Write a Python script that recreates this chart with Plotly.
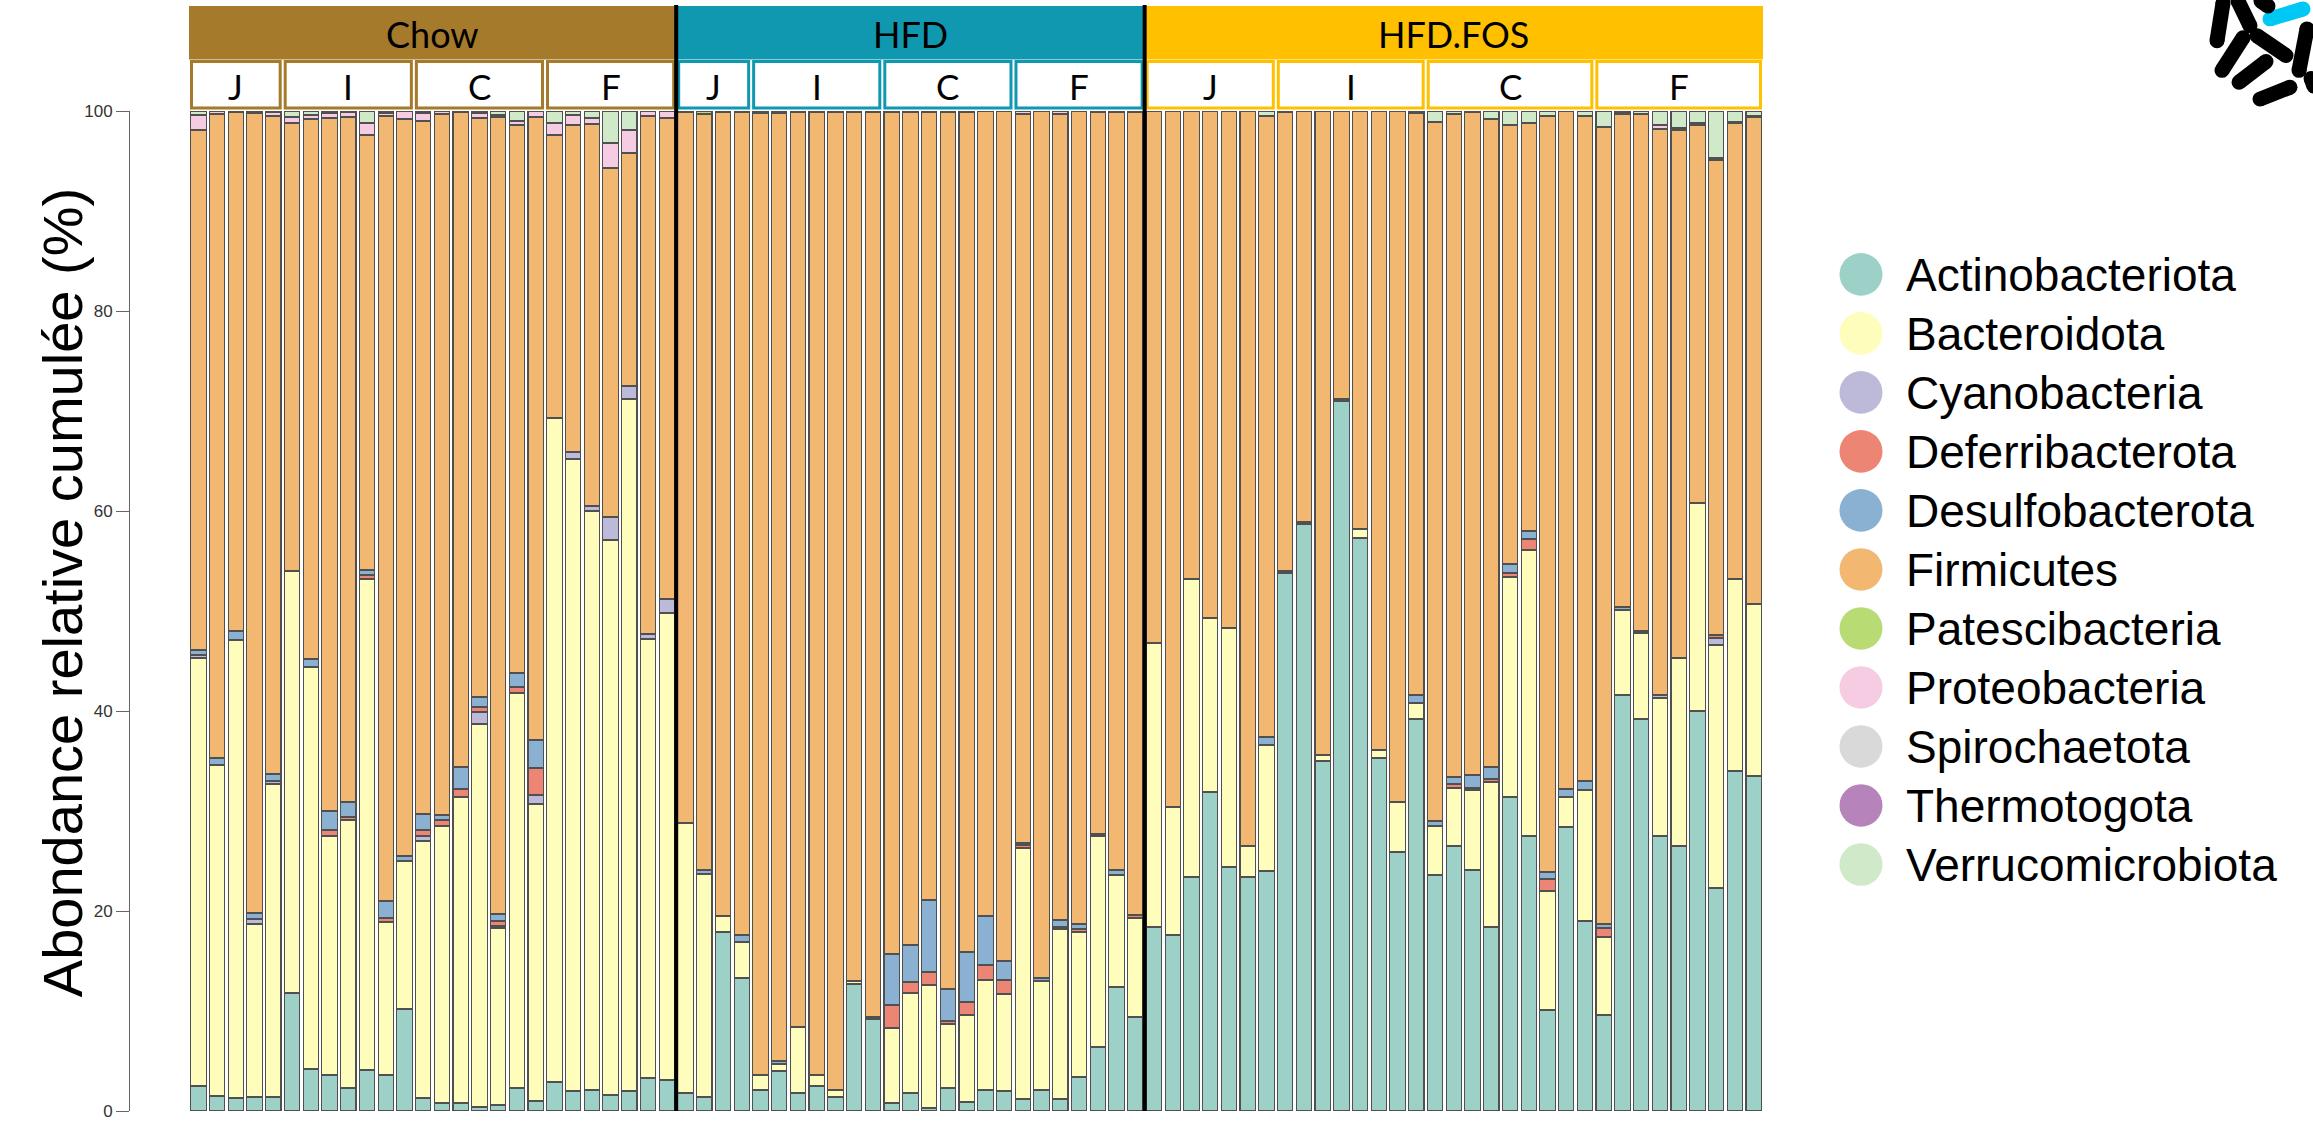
import plotly.graph_objects as go

# ---------------- data ----------------
phyla = ["Actinobacteriota", "Bacteroidota", "Cyanobacteria", "Deferribacterota",
         "Desulfobacterota", "Firmicutes", "Patescibacteria", "Proteobacteria",
         "Spirochaetota", "Thermotogota", "Verrucomicrobiota"]
phylum_colors = ["#9DD0C6", "#FEFDBB", "#BDB9D9", "#EC8574", "#8AB1D2", "#F2B872",
                 "#B8DB74", "#F5CCE2", "#D9D9D9", "#B683BA", "#CFE9C9"]

groups = ["Chow", "HFD", "HFD.FOS"]
group_colors = ["#A67A2B", "#1098B0", "#FFC000"]
subgroups = ["J", "I", "C", "F"]
chow_sizes = [5, 7, 7, 7]
hfd_sizes = [4, 7, 7, 7]
fos_sizes = [7, 8, 9, 9]

actinobacteriota = [
    2.5, 1.5, 1.3, 1.4, 1.4, 11.8, 4.2, 3.6, 2.3, 4.1, 3.6, 10.2, 1.3, 0.8, 0.8, 0.4, 0.6, 2.3, 1.0,
    2.9, 2.0, 2.1, 1.6, 2.0, 3.3, 3.1,
    1.8, 1.4, 17.9, 13.3, 2.1, 4.0, 1.8, 2.5, 1.4, 12.7, 9.2, 0.8, 1.8, 0.3, 2.3, 0.9, 2.1, 2.0,
    1.2, 2.1, 1.2, 3.4, 6.4, 12.4, 9.4,
    18.4, 17.6, 23.4, 31.9, 24.4, 23.4, 24.0, 53.8, 58.7, 35.0, 71.0, 57.3, 35.3, 25.9, 39.2,
    23.6, 26.5, 24.1, 18.4, 31.4, 27.5, 10.1, 28.4, 19.0,
    9.6, 41.6, 39.2, 27.5, 26.5, 40.0, 22.3, 34.0, 33.5]
bacteroidota = [
    42.8, 33.1, 45.8, 17.3, 31.3, 42.2, 40.2, 23.9, 26.8, 49.1, 15.3, 14.8, 25.7, 27.7, 30.6, 38.3, 17.7, 39.5, 29.7,
    66.4, 63.2, 57.9, 55.5, 69.2, 43.9, 46.7,
    27.0, 22.3, 1.6, 3.6, 1.5, 0.7, 6.6, 1.1, 0.7, 0.3, 0.2, 7.5, 10.0, 12.3, 6.4, 8.7, 11.0, 9.7,
    25.1, 10.9, 17.0, 14.5, 21.1, 11.2, 9.9,
    28.4, 12.8, 29.8, 17.4, 23.9, 3.1, 12.6, 0.2, 0.2, 0.6, 0.2, 0.9, 0.8, 5.0, 1.6,
    4.9, 5.8, 8.0, 14.5, 22.0, 28.6, 11.9, 3.0, 13.1,
    7.8, 8.5, 8.6, 13.8, 18.8, 20.8, 24.3, 19.2, 17.2]
cyanobacteria = [
    0.3, 0, 0, 0.5, 0.3, 0, 0, 0, 0, 0, 0, 0, 0.5, 0, 0, 1.2, 0.2, 0, 0.9,
    0, 0.7, 0.5, 2.3, 1.3, 0.5, 1.4,
    0, 0, 0, 0, 0, 0, 0, 0, 0, 0, 0, 0, 0, 0, 0, 0, 0, 0,
    0, 0, 0, 0, 0, 0, 0,
    0, 0, 0, 0, 0, 0, 0, 0, 0, 0, 0, 0, 0, 0, 0,
    0, 0, 0, 0, 0, 0, 0, 0, 0,
    0, 0, 0, 0.3, 0, 0, 0.7, 0, 0]
deferribacterota = [
    0, 0, 0, 0, 0, 0, 0, 0.6, 0.3, 0.4, 0.4, 0, 0.6, 0.6, 0.8, 0.5, 0.5, 0.6, 2.7,
    0, 0, 0, 0, 0, 0, 0,
    0, 0, 0, 0, 0, 0, 0, 0, 0, 0, 0, 2.3, 1.1, 1.3, 0.3, 1.3, 1.5, 1.4,
    0.3, 0, 0.2, 0.3, 0, 0, 0.3,
    0, 0, 0, 0, 0, 0, 0, 0, 0, 0, 0, 0, 0, 0, 0,
    0, 0.4, 0.2, 0.3, 0.4, 1.1, 1.2, 0, 0,
    0.9, 0, 0, 0, 0, 0, 0.3, 0, 0]
desulfobacterota = [
    0.5, 0.7, 0.9, 0.6, 0.7, 0, 0.8, 1.9, 1.5, 0.5, 1.7, 0.5, 1.6, 0.5, 2.2, 1.0, 0.7, 1.4, 2.8,
    0, 0, 0, 0, 0, 0, 0,
    0, 0.4, 0, 0.7, 0, 0.3, 0, 0, 0, 0, 0, 5.1, 3.7, 7.2, 3.2, 5.0, 4.9, 1.9,
    0.2, 0.3, 0.7, 0.5, 0.2, 0.5, 0,
    0, 0, 0, 0, 0, 0, 0.8, 0, 0, 0, 0, 0, 0, 0, 0.8,
    0.5, 0.7, 1.3, 1.2, 0.9, 0.8, 0.7, 0.8, 0.9,
    0.4, 0.3, 0.2, 0, 0, 0, 0, 0, 0]
firmicutes = [
    52.0, 64.4, 51.9, 80.0, 65.8, 44.8, 54.0, 69.3, 68.5, 43.5, 78.5, 73.7, 69.3, 70.1, 65.5, 57.9, 79.7, 54.8, 62.3,
    28.3, 32.7, 38.2, 34.9, 23.3, 51.8, 48.1,
    71.1, 75.6, 80.4, 82.3, 96.2, 94.8, 91.5, 96.3, 97.8, 86.9, 90.5, 84.2, 83.3, 78.8, 87.7, 84.0, 80.5, 85.0,
    72.9, 86.7, 80.6, 81.3, 72.2, 75.8, 80.3,
    53.2, 69.6, 46.8, 50.7, 51.7, 73.5, 62.1, 45.9, 41.1, 64.4, 28.8, 41.8, 63.9, 69.1, 58.2,
    69.9, 66.3, 66.3, 64.8, 43.9, 40.8, 75.6, 67.8, 66.5,
    79.7, 49.3, 51.7, 56.6, 52.8, 37.8, 47.5, 45.6, 48.7]
patescibacteria = [
    0, 0, 0, 0, 0, 0, 0, 0, 0, 0, 0, 0, 0, 0, 0, 0, 0, 0, 0,
    0, 0, 0, 0, 0, 0, 0,
    0.1, 0.3, 0.1, 0.1, 0.2, 0.2, 0.1, 0.1, 0.1, 0.1, 0.1, 0.1, 0.1, 0.1, 0.1, 0.1, 0, 0,
    0, 0, 0, 0, 0.1, 0.1, 0.1,
    0, 0, 0, 0, 0, 0, 0, 0, 0, 0, 0, 0, 0, 0, 0,
    0, 0, 0, 0, 0, 0, 0, 0, 0,
    0, 0, 0, 0, 0, 0, 0, 0, 0]
proteobacteria = [
    1.5, 0.3, 0.1, 0.2, 0.4, 0.6, 0.4, 0.5, 0.5, 1.2, 0.3, 0.8, 0.8, 0.3, 0.1, 0.5, 0.2, 0.4, 0.6,
    1.2, 1.0, 0.6, 2.5, 2.3, 0.5, 0.7,
    0, 0, 0, 0, 0, 0, 0, 0, 0, 0, 0, 0, 0, 0, 0, 0, 0, 0,
    0.3, 0, 0.3, 0, 0, 0, 0,
    0, 0, 0, 0, 0, 0, 0, 0, 0, 0, 0, 0, 0, 0, 0,
    0, 0, 0, 0, 0, 0, 0, 0, 0,
    0, 0.1, 0, 0.4, 0.2, 0.2, 0.2, 0.1, 0.1]
spirochaetota = [0] * 84
thermotogota = [0] * 84
verrucomicrobiota = [
    0.4, 0, 0, 0, 0.1, 0.6, 0.4, 0.2, 0.1, 1.2, 0.2, 0, 0.2, 0, 0, 0.2, 0.4, 1.0, 0,
    1.2, 0.4, 0.7, 3.2, 1.9, 0, 0,
    0, 0, 0, 0, 0, 0, 0, 0, 0, 0, 0, 0, 0, 0, 0, 0, 0, 0,
    0, 0, 0, 0, 0, 0, 0,
    0, 0, 0, 0, 0, 0, 0.5, 0.1, 0, 0, 0, 0, 0, 0, 0.2,
    1.1, 0.3, 0.1, 0.8, 1.4, 1.2, 0.5, 0, 0.5,
    1.6, 0.2, 0.3, 1.4, 1.7, 1.2, 4.7, 1.1, 0.5]

series = [actinobacteriota, bacteroidota, cyanobacteria, deferribacterota, desulfobacterota,
          firmicutes, patescibacteria, proteobacteria, spirochaetota, thermotogota, verrucomicrobiota]

y_title = "Abondance relative cumulée (%)"
y_ticks = [0, 20, 40, 60, 80, 100]

# ---------------- geometry ----------------
W, H = 2313, 1131
PL, PR, PT, PB = 130, 1764, 111, 1121          # plot area edges (px)
PW, PH = PR - PL, PB - PT
n_bars = len(actinobacteriota)
first_bar_left = 189.0
pitch = (1763.0 - first_bar_left) / n_bars
x0 = -0.5 - (first_bar_left - PL) / pitch
x1 = x0 + PW / pitch

samples = list(range(n_bars))


def dx(v):  # data x -> paper
    return (v - x0) / (x1 - x0)


def px(X):  # pixel x -> paper
    return (X - PL) / PW


def py(Y):  # pixel y -> paper
    return (PB - Y) / PH


fig = go.Figure()
for name, col, vals in zip(phyla, phylum_colors, series):
    fig.add_trace(go.Bar(
        x=samples, y=[v if v else None for v in vals], name=name,
        marker=dict(color=col, line=dict(color="#505050", width=1.1)),
        showlegend=False))

shapes = []
annotations = []

# header boxes and group separators
all_sizes = [chow_sizes, hfd_sizes, fos_sizes]
start = 0
for gi, (g, gcol, sizes) in enumerate(zip(groups, group_colors, all_sizes)):
    gn = sum(sizes)
    gl, gr = dx(start - 0.5), dx(start + gn - 0.5)
    shapes.append(dict(type="rect", xref="paper", yref="paper", x0=gl, x1=gr,
                       y0=py(59), y1=py(5), fillcolor=gcol, line=dict(width=0), layer="above"))
    annotations.append(dict(xref="paper", yref="paper", x=(gl + gr) / 2, y=py(33), text=g,
                            showarrow=False, font=dict(family="Lato, Carlito, sans-serif", size=36, color="black"),
                            xanchor="center", yanchor="middle"))
    s = start
    for sg, sn in zip(subgroups, sizes):
        sl, sr = dx(s - 0.5) + 2.5 / PW, dx(s + sn - 0.5) - 2.5 / PW
        shapes.append(dict(type="rect", xref="paper", yref="paper", x0=sl, x1=sr,
                           y0=py(108), y1=py(61), fillcolor="white",
                           line=dict(color=gcol, width=3), layer="above"))
        annotations.append(dict(xref="paper", yref="paper", x=(sl + sr) / 2, y=py(86), text=sg,
                                showarrow=False,
                                font=dict(family="Lato, Carlito, sans-serif", size=35, color="black"),
                                xanchor="center", yanchor="middle"))
        s += sn
    if gi > 0:
        shapes.append(dict(type="line", xref="paper", yref="paper", x0=gl, x1=gl,
                           y0=py(PB), y1=py(4), line=dict(color="black", width=4), layer="above"))
    start += gn

# legend (circles + labels)
for i, (name, col) in enumerate(zip(phyla, phylum_colors)):
    cy = 276 + i * 59.6
    cx, r = 1861, 21.5
    shapes.append(dict(type="circle", xref="paper", yref="paper",
                       x0=px(cx - r), x1=px(cx + r), y0=py(cy + r), y1=py(cy - r),
                       fillcolor=col, line=dict(width=0)))
    annotations.append(dict(xref="paper", yref="paper", x=px(1904), y=py(cy + 1), text=name,
                            showarrow=False, xanchor="left", yanchor="middle",
                            font=dict(family="Liberation Sans, Arial, sans-serif", size=46, color="black")))

# y axis title
annotations.append(dict(xref="paper", yref="paper", x=px(62), y=py(598), text=y_title,
                        textangle=-90, showarrow=False, xanchor="center", yanchor="middle",
                        font=dict(family="Liberation Sans, Arial, sans-serif", size=56, color="black")))

# decorative bacteria logo (top right)
logo_rods = [
    ((2270, 18), (2303, 8), "#00C8F5"),
    ((2223, 2), (2217, 40), "black"),
    ((2238, 0), (2250, 25), "black"),
    ((2261, 0), (2268, 5), "black"),
    ((2243, 37), (2222, 70), "black"),
    ((2257, 35), (2286, 55), "black"),
    ((2266, 61), (2239, 82), "black"),
    ((2307, 28), (2299, 70), "black"),
    ((2290, 87), (2260, 99), "black"),
    ((2311, 78), (2314, 86), "black"),
]
for (ax_, ay_), (bx_, by_), c in logo_rods:
    shapes.append(dict(type="line", xref="paper", yref="paper", x0=px(ax_), y0=py(ay_),
                       x1=px(bx_), y1=py(by_), line=dict(color=c, width=15)))
    for (qx, qy) in ((ax_, ay_), (bx_, by_)):
        shapes.append(dict(type="circle", xref="paper", yref="paper",
                           x0=px(qx - 7.5), x1=px(qx + 7.5), y0=py(qy + 7.5), y1=py(qy - 7.5),
                           fillcolor=c, line=dict(width=0)))

fig.update_layout(
    width=W, height=H,
    margin=dict(l=PL, r=W - PR, t=PT, b=H - PB, pad=0),
    barmode="stack", bargap=0.18,
    plot_bgcolor="white", paper_bgcolor="white",
    xaxis=dict(range=[x0, x1], visible=False, showgrid=False, zeroline=False),
    yaxis=dict(range=[0, 100], tickvals=y_ticks, ticktext=[str(t) for t in y_ticks],
               showgrid=False, zeroline=False, showline=True, linecolor="#666666", linewidth=1,
               ticks="outside", ticklen=13, tickcolor="#666666", tickwidth=1,
               ticklabeloverflow="allow",
               tickfont=dict(family="Liberation Sans, Arial, sans-serif", size=17, color="#333333")),
    shapes=shapes, annotations=annotations,
    showlegend=False,
)

fig.write_html("out.html", config={"displayModeBar": False},
               post_script="document.body.style.margin='0px';")
